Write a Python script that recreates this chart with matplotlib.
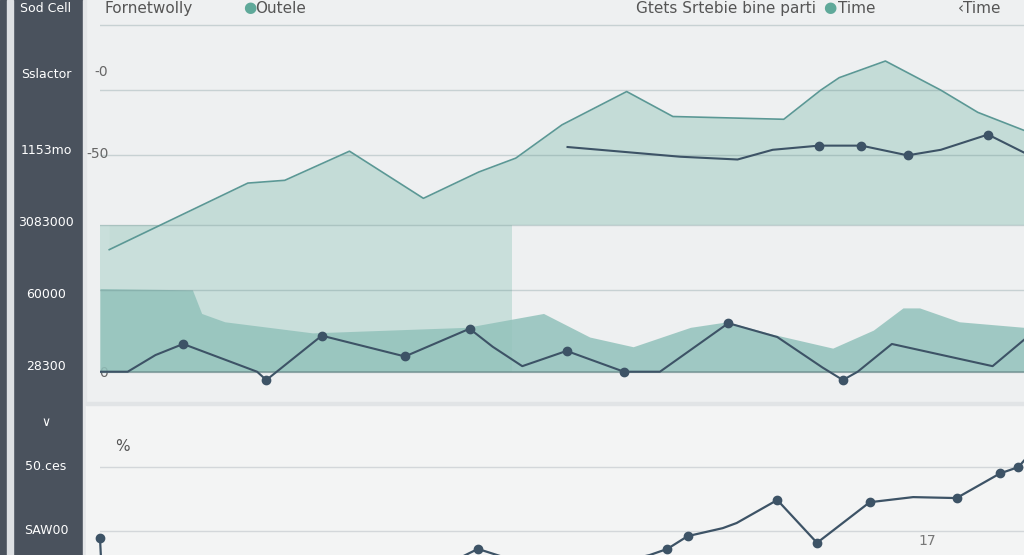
import numpy as np
import matplotlib
matplotlib.use("Agg")
import matplotlib.pyplot as plt
from matplotlib.patches import Rectangle

W, H = 1024, 555

# DATA (x = position along the time axis, 0..100)
# upper teal area
upper_x = [1, 16, 20, 27, 35, 41, 45, 50, 57, 62, 74, 78, 80, 85, 91, 95, 100]
upper_y = [88, 136, 138, 159, 125, 144, 154, 178, 202, 184, 182, 203, 212, 224, 203, 187, 174]
upper_base = 106
shelf_x = [0, 44.6]
shelf_top = 106

# dark line inside the upper area
mid_x = [50.6, 62.8, 69, 72.8, 77.8, 82.4, 87.4, 91, 96.1, 100]
mid_y = [162, 155, 153, 160, 163, 163, 156, 160, 171, 158]
mid_marks = [4, 5, 6, 8]

# lower teal band
band_x = [0, 10, 11, 13.5, 23, 39.7, 48, 53, 57.7, 63.9, 67.9, 72.8, 79.3, 83.7, 86.9, 88.7, 93, 100]
band_y = [60, 59, 42, 36, 28, 32, 42, 25, 18, 32, 36, 27, 17, 30, 46, 46, 36, 32]

# lower dark line
low_x = [0, 3, 6, 9, 17, 18, 24, 33, 40, 42.5, 45.7, 50.5, 56.7, 60.6, 68, 73.3, 78.2, 80.4, 82, 85.7, 96.6, 100]
low_y = [0, 0, 12, 20, 0, -6, 26, 11, 31, 18, 4, 15, 0, 0, 35, 25, 3, -6, 0, 20, 4, 23]
low_marks = [3, 5, 6, 7, 8, 11, 12, 14, 17]

# bottom panel line
bot_x = [0, 0.3, 20, 35, 40.9, 50, 59.5, 61.4, 63.6, 67.4, 68.9, 73.3, 77.6, 83.3, 88, 92.7, 97.4, 99.4, 100]
bot_y = [17.8, 0, 2, 6, 14.4, 6, 12.5, 14.4, 18.4, 20.9, 22.5, 29.7, 16.3, 29, 30.6, 30.3, 38, 40, 42]
bot_marks = [0, 4, 7, 8, 11, 12, 13, 15, 16, 17]

top_grid = [250, 203, 156, 106, 59, 0]
top_ticks = [217, 158, 0]
top_ticklabels = ['-0', '-50', '0']
bot_grid = [40, 20]

side_labels = ['Sod Cell', 'Sslactor', '1153mo', '3083000', '60000', '28300', '\u2228', '50.ces', 'SAW00']
side_rows = [9, 75, 150, 222, 295, 366, 422, 466, 530]

header_labels = ['Fornetwolly', 'Outele', 'Gtets Srtebie bine parti', 'Time', '\u2039Time']
header_cols = [105, 255, 636, 838, 958]
header_dots = [243, 823]

bg = '#eef0f1'
dark = '#3d5366'
teal_line = '#5b9895'

fig = plt.figure(figsize=(W / 100, H / 100), dpi=100, facecolor=bg)

def px(x, y):
    return x / W, 1 - y / H

# sidebar
fig.patches.append(Rectangle((0, 0), 83 / W, 1, transform=fig.transFigure, color='#4a525d', zorder=0))
fig.patches.append(Rectangle((7 / W, 0), 6 / W, 1, transform=fig.transFigure, color='#dde0e3', zorder=0))
fig.patches.append(Rectangle((83 / W, 0), 3 / W, 1, transform=fig.transFigure, color='#e4e6e8', zorder=0))
for lab, row in zip(side_labels, side_rows):
    fig.text(*px(46, row), lab, color='white', fontsize=9, ha='center', va='center')

# bottom panel background
fig.patches.append(Rectangle((86 / W, 0), 1, 150 / H, transform=fig.transFigure, color='#f3f4f4', zorder=0))
fig.patches.append(Rectangle((86 / W, 150 / H), 1, 3 / H, transform=fig.transFigure, color='#e1e4e6', zorder=0))

# TOP PANEL
ax1 = fig.add_axes([100 / W, 150 / H, 924 / W, 405 / H])
ax1.set_zorder(3)
ax1.set_facecolor('none')
ax1.set_xlim(0, 100)
ax1.set_ylim(-24, 268)
ax1.fill_between(shelf_x, 0, shelf_top, color='#c9dfdb', lw=0, zorder=1)
ax1.fill_between(upper_x, upper_y, upper_base, color='#c4dcd7', lw=0, zorder=1)
ax1.plot(upper_x, upper_y, color=teal_line, lw=1.2, zorder=3)
ax1.fill_between(band_x, band_y, 0, color='#92c2bb', alpha=0.85, lw=0, zorder=2)
for g in top_grid:
    ax1.axhline(g, color='#55777a', alpha=0.25, lw=1, zorder=2.5)
ax1.axhline(0, color='#5f7f80', alpha=0.6, lw=1.2, zorder=2.6)
ax1.plot(mid_x, mid_y, color=dark, lw=1.5, marker='o', ms=6, markevery=mid_marks, zorder=4)
ax1.plot(low_x, low_y, color=dark, lw=1.5, marker='o', ms=6, markevery=low_marks, zorder=4)
ax1.set_yticks(top_ticks)
ax1.set_yticklabels(top_ticklabels, fontsize=10, color='#666666')
ax1.tick_params(axis='y', length=0, pad=-6)
ax1.set_xticks([])
for s in ax1.spines.values():
    s.set_visible(False)

# BOTTOM PANEL
ax2 = fig.add_axes([100 / W, 0, 924 / W, 150 / H])
ax2.set_zorder(3)
ax2.set_facecolor('none')
ax2.set_xlim(0, 100)
ax2.set_ylim(12.5, 59.4)
for g in bot_grid:
    ax2.axhline(g, color='#d3d7da', lw=1, zorder=1)
ax2.plot(bot_x, bot_y, color=dark, lw=1.6, marker='o', ms=6, markevery=bot_marks, zorder=3, clip_on=False)
ax2.text(1.6, 46.5, '%', fontsize=11, color='#555555', ha='left', va='center')
ax2.text(89.5, 17, '17', fontsize=10, color='#777777', ha='center', va='center')
ax2.set_xticks([])
ax2.set_yticks([])
for s in ax2.spines.values():
    s.set_visible(False)

# header along the top edge
for lab, col in zip(header_labels, header_cols):
    fig.text(*px(col, 1), lab, fontsize=11, color='#555555', ha='left', va='top')
for col in header_dots:
    fig.text(*px(col, 0), '\u25cf', fontsize=11, color='#5fa99a', ha='left', va='top')

fig.savefig('out.png', dpi=100, facecolor=bg)
